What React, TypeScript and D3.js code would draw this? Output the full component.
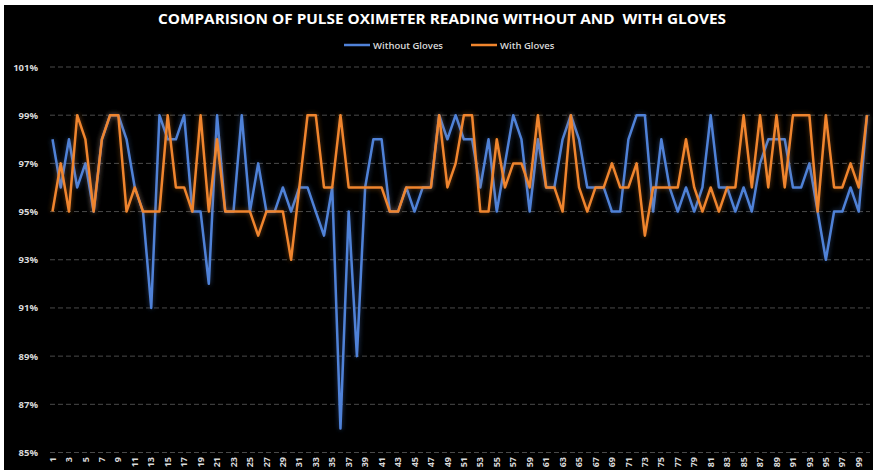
import React, { useEffect, useRef } from "react";
import * as d3 from "d3";

const readings: number[] = d3.range(1, 101);

const withoutGloves: number[] = [
  98, 96, 98, 96, 97, 95, 98, 99, 99, 98,
  96, 95, 91, 99, 98, 98, 99, 95, 95, 92,
  99, 95, 95, 99, 95, 97, 95, 95, 96, 95,
  96, 96, 95, 94, 96, 86, 95, 89, 96, 98,
  98, 95, 95, 96, 95, 96, 96, 99, 98, 99,
  98, 98, 96, 98, 95, 97, 99, 98, 95, 98,
  96, 96, 98, 99, 98, 96, 96, 96, 95, 95,
  98, 99, 99, 95, 98, 96, 95, 96, 95, 96,
  99, 96, 96, 95, 96, 95, 97, 98, 98, 98,
  96, 96, 97, 95, 93, 95, 95, 96, 95, 99,
];

const withGloves: number[] = [
  95, 97, 95, 99, 98, 95, 98, 99, 99, 95,
  96, 95, 95, 95, 99, 96, 96, 95, 99, 95,
  98, 95, 95, 95, 95, 94, 95, 95, 95, 93,
  96, 99, 99, 96, 96, 99, 96, 96, 96, 96,
  96, 95, 95, 96, 96, 96, 96, 99, 96, 97,
  99, 99, 95, 95, 98, 96, 97, 97, 96, 99,
  96, 96, 95, 99, 96, 95, 96, 96, 97, 96,
  96, 97, 94, 96, 96, 96, 96, 98, 96, 95,
  96, 95, 96, 96, 99, 96, 99, 96, 99, 96,
  99, 99, 99, 95, 99, 96, 96, 97, 96, 99,
];

const yTicks: number[] = [85, 87, 89, 91, 93, 95, 97, 99, 101];
const xTicks: number[] = readings.filter((d) => d % 2 === 1);

const seriesNames = ["Without Gloves", "With Gloves"];
const seriesColors = ["#5082d8", "#f0852d"];

const title = "COMPARISION OF PULSE OXIMETER READING WITHOUT AND  WITH GLOVES";

export default function App() {
  const ref = useRef<SVGSVGElement>(null);

  useEffect(() => {
    const width = 873;
    const height = 470;
    const svg = d3.select(ref.current);
    svg.selectAll("*").remove();

    svg.append("rect").attr("width", width).attr("height", height).attr("fill", "#fff");
    svg.append("rect").attr("x", 4).attr("y", 5).attr("width", width - 4).attr("height", height - 5).attr("fill", "#000");

    const defs = svg.append("defs");
    const glow = defs.append("filter").attr("id", "glow").attr("x", "-5%").attr("y", "-20%").attr("width", "110%").attr("height", "140%");
    glow.append("feGaussianBlur").attr("in", "SourceGraphic").attr("stdDeviation", 2.5).attr("result", "blur");
    glow.append("feComponentTransfer").attr("in", "blur").attr("result", "soft")
      .append("feFuncA").attr("type", "linear").attr("slope", 0.45);
    const merge = glow.append("feMerge");
    merge.append("feMergeNode").attr("in", "soft");
    merge.append("feMergeNode").attr("in", "SourceGraphic");

    const x = d3.scaleLinear().domain([1, 100]).range([52.5, 867]);
    const y = d3.scaleLinear().domain([85, 101]).range([452.5, 67]);

    // title
    svg.append("text")
      .attr("x", 442).attr("y", 24)
      .attr("text-anchor", "middle")
      .attr("fill", "#fff")
      .attr("font-family", "Open Sans, sans-serif")
      .attr("font-weight", "bold")
      .attr("font-size", 14)
      .attr("textLength", 568)
      .attr("lengthAdjust", "spacingAndGlyphs")
      .style("white-space", "pre")
      .text(title);

    // legend
    const legendX = [344, 471];
    const legend = svg.append("g").attr("font-family", "Open Sans, sans-serif").attr("font-size", 9.5).attr("font-weight", 600);
    seriesNames.forEach((name, i) => {
      legend.append("line")
        .attr("x1", legendX[i]).attr("x2", legendX[i] + 26)
        .attr("y1", 45).attr("y2", 45)
        .attr("stroke", seriesColors[i]).attr("stroke-width", 2.5);
      legend.append("text")
        .attr("x", legendX[i] + 29).attr("y", 48.5)
        .attr("fill", "#d9d9d9")
        .text(name);
    });

    // grid
    svg.append("g")
      .selectAll("line")
      .data(yTicks)
      .join("line")
      .attr("x1", 50).attr("x2", 870)
      .attr("y1", (d) => y(d)).attr("y2", (d) => y(d))
      .attr("stroke", "#4a4a4a")
      .attr("stroke-width", 1)
      .attr("stroke-dasharray", "5,3");

    // y labels
    svg.append("g")
      .attr("font-family", "Open Sans, sans-serif")
      .attr("font-size", 9.5)
      .attr("font-weight", "bold")
      .selectAll("text")
      .data(yTicks)
      .join("text")
      .attr("x", 38)
      .attr("y", (d) => y(d) + 3.5)
      .attr("text-anchor", "end")
      .attr("fill", "#d9d9d9")
      .text((d) => `${d}%`);

    // x labels
    svg.append("g")
      .attr("font-family", "Open Sans, sans-serif")
      .attr("font-size", 9)
      .attr("font-weight", "bold")
      .selectAll("text")
      .data(xTicks)
      .join("text")
      .attr("transform", (d) => `translate(${x(d)},457) rotate(-90)`)
      .attr("text-anchor", "end")
      .attr("dy", "0.35em")
      .attr("fill", "#d9d9d9")
      .text((d) => d);

    const line = d3.line<number>()
      .x((_, i) => x(readings[i]))
      .y((d) => y(d));

    [withoutGloves, withGloves].forEach((values, i) => {
      svg.append("path")
        .datum(values)
        .attr("fill", "none")
        .attr("stroke", seriesColors[i])
        .attr("stroke-width", 2.5)
        .attr("stroke-linejoin", "round")
        .attr("filter", "url(#glow)")
        .attr("d", line);
    });
  }, []);

  return (
    <svg
      ref={ref}
      width={873}
      height={470}
      style={{ position: "absolute", left: 0, top: 0, display: "block" }}
    />
  );
}
